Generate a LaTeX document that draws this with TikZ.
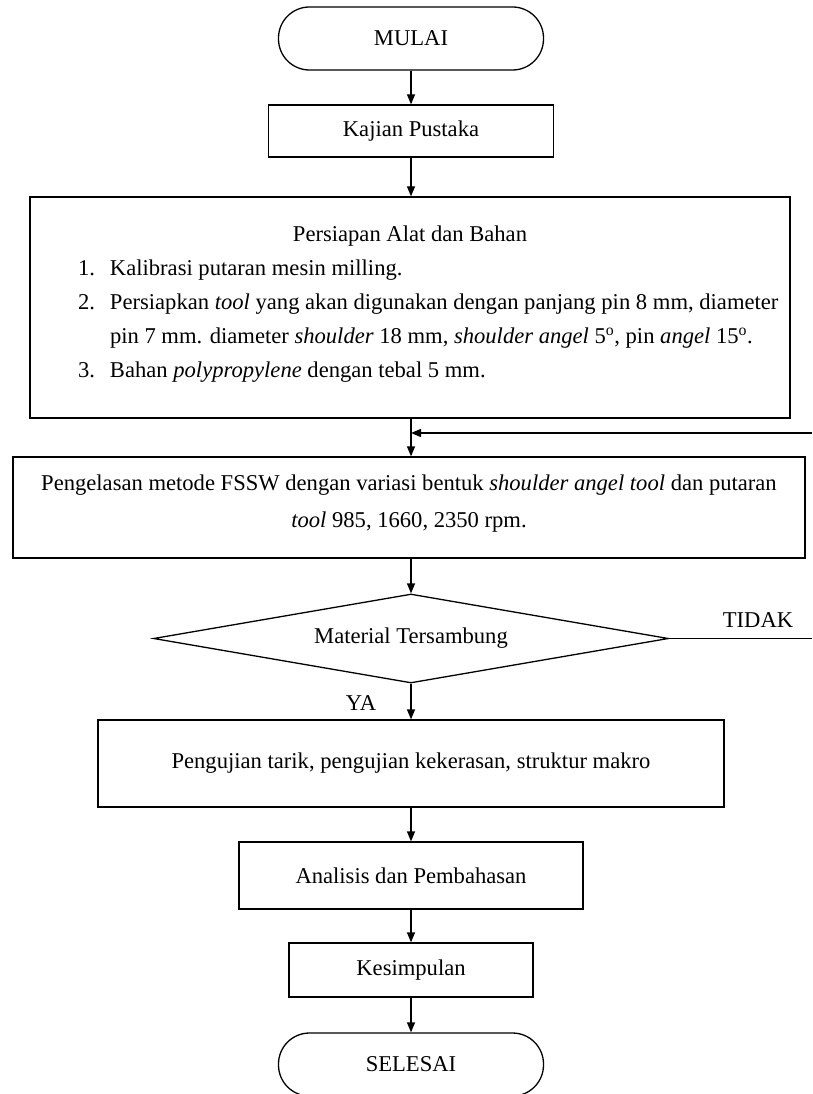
\documentclass[tikz,border=0pt]{standalone}
\usepackage{fontspec}
\setmainfont{Liberation Serif}
\usetikzlibrary{shapes.geometric,arrows.meta}
\tikzstyle{terminal} = [draw=black, line width=1.3pt, rectangle, rounded corners=31pt, minimum width=265pt, minimum height=63pt, inner sep=0pt]
\tikzstyle{proses} = [draw=black, line width=1.3pt, rectangle, inner sep=0pt]
\tikzstyle{keputusan} = [draw=black, line width=1.3pt, diamond, aspect=5.8, minimum width=515pt, minimum height=89pt, inner sep=0pt]
\tikzstyle{panah} = [line width=1.3pt, -{Triangle[length=10pt,width=8pt]}]
\tikzstyle{garis} = [line width=1.3pt]
\newcommand{\butir}[2]{\mbox{\hspace*{48pt}\makebox[32pt][l]{#1}#2}}

\begin{document}
\begin{tikzpicture}[x=1pt, y=-1pt, font=\fontsize{22.6}{34}\selectfont]
\useasboundingbox (0,0) rectangle (812,1094);

\node[terminal] (mulai) at (411,38.5) {MULAI};
\node[proses, minimum width=285pt, minimum height=52pt] (kajian) at (411,131) {Kajian Pustaka};
\node[proses] (persiapan) at (410,307.5){%
    \begin{minipage}[c][221pt][t]{760pt}
        \makebox[760pt]{\rule{0pt}{44pt}Persiapan Alat dan Bahan}\\
        \butir{1.}{Kalibrasi putaran mesin milling.}\\
        \butir{2.}{Persiapkan \textit{tool} yang akan digunakan dengan panjang pin 8 mm, diameter}\\
        \mbox{\hspace*{80pt}pin 7 mm. diameter \textit{shoulder} 18 mm, \textit{shoulder angel} 5\textsuperscript{o}, pin \textit{angel} 15\textsuperscript{o}.}\\
        \butir{3.}{Bahan \textit{polypropylene} dengan tebal 5 mm.}
    \end{minipage}
};
\node[proses, font=\fontsize{22.6}{37}\selectfont] (pengelasan) at (409,507.5){%
    \begin{minipage}[c][101pt][t]{792pt}
        \centering
        \rule{0pt}{33pt}Pengelasan metode FSSW dengan variasi bentuk \textit{shoulder angel tool} dan putaran\\
        \textit{tool} 985, 1660, 2350 rpm.
    \end{minipage}
};
\node[keputusan] (keputusan) at (411,638.5) {Material Tersambung};
\node[proses, minimum width=626pt, minimum height=87pt] (pengujian) at (411,763.5) {Pengujian tarik, pengujian kekerasan, struktur makro};
\node[proses, minimum width=344pt, minimum height=67pt] (analisis) at (411,875.5) {Analisis dan Pembahasan};
\node[proses, minimum width=244pt, minimum height=54pt] (kesimpulan) at (411,970) {Kesimpulan};
\node[terminal] (selesai) at (411,1064.5) {SELESAI};

\node (ya) at (361,703) {YA};
\node (tidak) at (758,620) {TIDAK};

\coordinate (tepikanan) at (812,638.5);
\coordinate (tepibalik) at (812,433);

\draw[panah] (mulai.south) -- (kajian.north);
\draw[panah] (kajian.south) -- (kajian.south |- persiapan.north);
\draw[panah] (persiapan.south -| kajian.south) -- (kajian.south |- pengelasan.north);
\draw[panah] (kajian.south |- pengelasan.south) -- (keputusan.north);
\draw[panah] (keputusan.south) -- (pengujian.north);
\draw[panah] (pengujian.south) -- (analisis.north);
\draw[panah] (analisis.south) -- (kesimpulan.north);
\draw[panah] (kesimpulan.south) -- (selesai.north);
\draw[garis] (keputusan.east) -- (tepikanan);
\draw[panah] (tepibalik) -- (tepibalik -| kajian.south);
\end{tikzpicture}
\end{document}
